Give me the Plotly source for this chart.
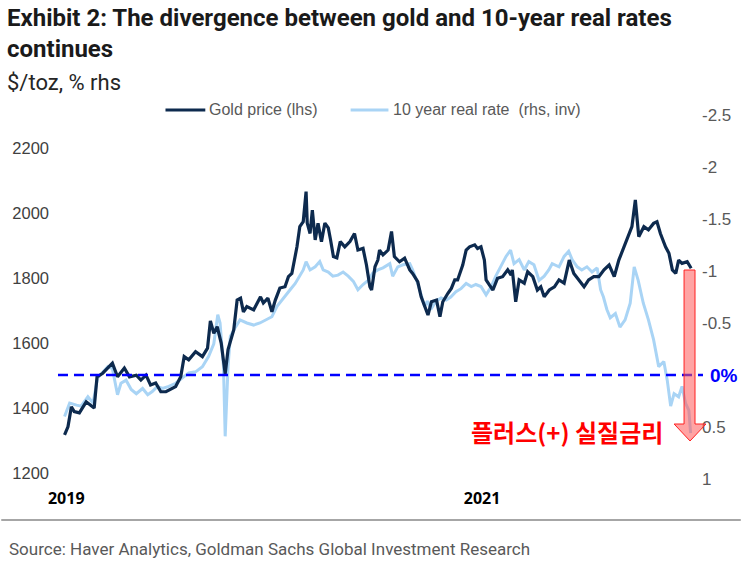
import plotly.graph_objects as go

# ---------------- data ----------------
gold_dates = (
    ["2019-06-11", "2019-06-17", "2019-06-23", "2019-06-28", "2019-07-07", "2019-07-19", "2019-08-02", "2019-08-07", "2019-08-17"]
    + ["2019-09-03", "2019-09-12", "2019-09-24", "2019-10-03", "2019-10-15", "2019-10-23", "2019-11-01", "2019-11-09", "2019-11-18", "2019-11-27", "2019-12-06", "2019-12-23"]
    + ["2020-01-01", "2020-01-07", "2020-01-15", "2020-01-27", "2020-02-08", "2020-02-17", "2020-02-22", "2020-02-28", "2020-03-05", "2020-03-12", "2020-03-19", "2020-03-24", "2020-03-30"]
    + ["2020-04-03", "2020-04-09", "2020-04-15", "2020-04-20", "2020-04-26", "2020-05-08", "2020-05-20", "2020-05-25", "2020-06-02", "2020-06-09", "2020-06-15", "2020-06-23"]
    + ["2020-07-02", "2020-07-08", "2020-07-14", "2020-07-23", "2020-07-28", "2020-08-03", "2020-08-08", "2020-08-10", "2020-08-15", "2020-08-19", "2020-08-24", "2020-08-29"]
    + ["2020-09-04", "2020-09-10", "2020-09-16", "2020-09-20", "2020-09-25", "2020-10-01", "2020-10-07", "2020-10-15", "2020-10-24"]
    + ["2020-11-01", "2020-11-07", "2020-11-16", "2020-11-22", "2020-11-28", "2020-12-01", "2020-12-07", "2020-12-12", "2020-12-15", "2020-12-21", "2020-12-30"]
    + ["2021-01-05", "2021-01-10", "2021-01-19", "2021-01-28", "2021-02-06", "2021-02-11", "2021-02-20", "2021-02-26", "2021-03-04", "2021-03-10", "2021-03-16", "2021-03-25", "2021-03-31"]
    + ["2021-04-05", "2021-04-14", "2021-04-20", "2021-04-26", "2021-05-01", "2021-05-10", "2021-05-16", "2021-05-22", "2021-05-31", "2021-06-05", "2021-06-11", "2021-06-17", "2021-06-20", "2021-06-26"]
    + ["2021-07-02", "2021-07-10", "2021-07-19", "2021-07-28", "2021-08-03", "2021-08-05", "2021-08-11", "2021-08-17", "2021-08-26", "2021-09-01", "2021-09-10", "2021-09-18", "2021-09-24", "2021-09-30"]
    + ["2021-10-09", "2021-10-18", "2021-10-26", "2021-11-04", "2021-11-13", "2021-11-21", "2021-11-30", "2021-12-09", "2021-12-17", "2021-12-26"]
    + ["2022-01-04", "2022-01-13", "2022-01-22", "2022-01-31", "2022-02-08", "2022-02-17", "2022-02-25", "2022-03-03", "2022-03-09", "2022-03-15", "2022-03-24"]
    + ["2022-04-01", "2022-04-10", "2022-04-16", "2022-04-22", "2022-05-01", "2022-05-07", "2022-05-13", "2022-05-19", "2022-05-24", "2022-05-30", "2022-06-08", "2022-06-15"]
)
gold_price = (
    [1317, 1342, 1404, 1389, 1385, 1419, 1400, 1496, 1507]
    + [1538, 1496, 1523, 1496, 1501, 1486, 1501, 1471, 1477, 1450, 1450, 1466]
    + [1496, 1558, 1548, 1573, 1558, 1584, 1668, 1630, 1650, 1600, 1505, 1580, 1620]
    + [1640, 1732, 1738, 1696, 1712, 1702, 1742, 1723, 1738, 1696, 1732, 1769]
    + [1773, 1804, 1814, 1896, 1958, 1973, 2066, 1969, 1937, 2009, 1917, 1968]
    + [1912, 1969, 1954, 1917, 1866, 1862, 1912, 1896, 1912]
    + [1937, 1886, 1891, 1840, 1773, 1763, 1835, 1855, 1886, 1871, 1886]
    + [1943, 1866, 1850, 1861, 1825, 1814, 1789, 1742, 1712, 1686, 1727, 1732, 1681]
    + [1727, 1753, 1768, 1794, 1794, 1840, 1886, 1896, 1902, 1891, 1896, 1855, 1794, 1778]
    + [1763, 1799, 1804, 1825, 1809, 1825, 1727, 1794, 1784, 1819, 1804, 1763, 1773, 1742]
    + [1763, 1773, 1794, 1784, 1855, 1814, 1794, 1773, 1794, 1804]
    + [1804, 1825, 1840, 1804, 1855, 1896, 1937, 1958, 2040, 1927, 1958]
    + [1948, 1968, 1973, 1937, 1896, 1876, 1825, 1814, 1855, 1845, 1850, 1830]
)

rate_dates = (
    ["2019-06-11", "2019-06-20", "2019-07-02", "2019-07-10", "2019-07-22", "2019-07-31", "2019-08-08", "2019-08-17", "2019-08-26", "2019-09-03", "2019-09-12",
     "2019-09-18", "2019-09-27", "2019-10-06", "2019-10-15", "2019-10-26", "2019-11-04", "2019-11-12", "2019-11-21", "2019-11-30", "2019-12-11", "2019-12-23"]
    + ["2020-01-04", "2020-01-15", "2020-01-27", "2020-02-08", "2020-02-19", "2020-02-28", "2020-03-06", "2020-03-10", "2020-03-16", "2020-03-19", "2020-03-24",
       "2020-03-28", "2020-04-06", "2020-04-14", "2020-04-26", "2020-05-08", "2020-05-19", "2020-05-31", "2020-06-09", "2020-06-18", "2020-06-29"]
    + ["2020-07-11", "2020-07-20", "2020-07-28", "2020-08-03", "2020-08-08", "2020-08-15", "2020-08-24", "2020-09-01", "2020-09-07", "2020-09-16", "2020-09-24",
       "2020-10-03", "2020-10-12", "2020-10-21", "2020-10-30", "2020-11-07", "2020-11-16", "2020-11-25", "2020-12-03", "2020-12-12", "2020-12-21"]
    + ["2021-01-02", "2021-01-07", "2021-01-16", "2021-01-25", "2021-02-06", "2021-02-11", "2021-02-20", "2021-02-26", "2021-03-04", "2021-03-09", "2021-03-15",
       "2021-03-24", "2021-04-02", "2021-04-11", "2021-04-19", "2021-04-28", "2021-05-07", "2021-05-16", "2021-05-25", "2021-06-02", "2021-06-11", "2021-06-20", "2021-06-29"]
    + ["2021-07-07", "2021-07-16", "2021-07-25", "2021-08-02", "2021-08-08", "2021-08-17", "2021-08-26", "2021-09-03", "2021-09-12", "2021-09-21", "2021-09-30",
       "2021-10-08", "2021-10-14", "2021-10-26", "2021-11-04", "2021-11-12", "2021-11-18", "2021-11-27", "2021-12-05", "2021-12-14", "2021-12-23"]
    + ["2022-01-01", "2022-01-07", "2022-01-12", "2022-01-18", "2022-01-24", "2022-02-02", "2022-02-10", "2022-02-19", "2022-02-28", "2022-03-07", "2022-03-14",
       "2022-03-23", "2022-04-01", "2022-04-10", "2022-04-19", "2022-04-28", "2022-05-04", "2022-05-10", "2022-05-16", "2022-05-24", "2022-05-30", "2022-06-05",
       "2022-06-11", "2022-06-14"]
)
real_rate = (
    [0.40, 0.27, 0.29, 0.30, 0.21, 0.27, 0.03, -0.03, -0.08, -0.06, 0.19,
     0.08, 0.05, 0.14, 0.18, 0.13, 0.19, 0.16, 0.11, 0.13, 0.11, 0.08]
    + [0.03, -0.02, -0.03, -0.08, -0.18, -0.30, -0.58, -0.50, -0.08, 0.59, -0.08,
       -0.37, -0.46, -0.53, -0.50, -0.48, -0.50, -0.53, -0.56, -0.66, -0.74]
    + [-0.82, -0.88, -0.95, -1.01, -1.09, -1.01, -1.04, -1.09, -1.01, -0.99, -0.95,
       -0.96, -0.99, -0.95, -0.90, -0.82, -0.87, -0.91, -0.98, -1.01, -1.03]
    + [-1.07, -0.95, -1.04, -1.06, -1.07, -1.01, -0.88, -0.77, -0.66, -0.71, -0.63,
       -0.71, -0.74, -0.72, -0.75, -0.80, -0.83, -0.88, -0.85, -0.87, -0.85, -0.77, -0.85]
    + [-0.95, -1.04, -1.14, -1.20, -1.07, -1.11, -1.01, -1.09, -1.06, -0.91, -0.95,
       -1.01, -1.07, -1.04, -1.14, -1.19, -1.11, -1.04, -1.01, -1.04, -0.99]
    + [-1.03, -0.82, -0.75, -0.63, -0.55, -0.59, -0.46, -0.53, -0.69, -1.04, -0.91,
       -0.69, -0.53, -0.34, -0.08, -0.13, 0.05, 0.30, 0.18, 0.21, 0.11, 0.27,
       0.34, 0.56]
)

left_ticks = [1200, 1400, 1600, 1800, 2000, 2200]
right_ticks = [-2.5, -2, -1.5, -1, -0.5, 0.5, 1]
right_ticktext = ["-2.5", "-2", "-1.5", "-1", "-0.5", "0.5", "1"]
x_tickvals = ["2019-06-14", "2021-06-13"]
x_ticktext = ["2019", "2021"]

# ---------------- layout geometry ----------------
W, H = 743, 564
L, R, T, B = 55, 700, 115, 480


def px(x):
    return (x - L) / (R - L)


def py(y):
    return (B - y) / (B - T)


NAVY = "#0d2a4e"
LIGHT = "#a9d4f5"
NARROW = "Roboto, Liberation Sans, sans-serif"
ARIAL = "Liberation Sans, Arial, sans-serif"

fig = go.Figure()
# real rate on primary axis (right side), gold on overlay axis so it is drawn on top
fig.add_trace(go.Scatter(x=rate_dates, y=real_rate, mode="lines", name="10 year real rate  (rhs, inv)",
                         line=dict(color=LIGHT, width=3), yaxis="y", showlegend=False))
fig.add_trace(go.Scatter(x=gold_dates, y=gold_price, mode="lines", name="Gold price (lhs)",
                         line=dict(color=NAVY, width=3.2), yaxis="y2", showlegend=False))

fig.update_layout(
    width=W, height=H,
    margin=dict(l=L, r=W - R, t=T, b=H - B),
    paper_bgcolor="white", plot_bgcolor="white",
    xaxis=dict(type="date", range=["2019-05-27", "2022-06-27"], showgrid=False, zeroline=False,
               showline=False, ticks="", tickvals=x_tickvals, ticktext=x_ticktext,
               tickfont=dict(family="Open Sans, sans-serif", size=16, color="black", weight="bold"),
               ticklabelstandoff=7),
    yaxis=dict(side="right", range=[1.01, -2.5], showgrid=False, zeroline=False, showline=False,
               ticks="", tickvals=right_ticks, ticktext=right_ticktext, ticklabelstandoff=3,
               tickfont=dict(family=ARIAL, size=17, color="#595959")),
    yaxis2=dict(side="left", overlaying="y", range=[1178.5, 2301.5], showgrid=False, zeroline=False,
                showline=False, ticks="", tickvals=left_ticks, ticklabelstandoff=6,
                tickfont=dict(family=ARIAL, size=16.5, color="#404040")),
)

shapes = []
# 0% dashed line
shapes.append(dict(type="line", xref="paper", yref="y", x0=px(57), x1=px(705), y0=0, y1=0,
                   line=dict(color="#0000ff", width=2.5, dash="10px,6px"), layer="above"))
# arrow
pts = [(686, 270), (697, 270), (697, 424), (708, 424), (692, 441), (676, 424), (686, 424)]
path = "M " + " L ".join(f"{px(a):.5f},{py(b):.5f}" for a, b in pts) + " Z"
shapes.append(dict(type="path", xref="paper", yref="paper", path=path,
                   fillcolor="rgba(255,90,90,0.55)", line=dict(color="#ff2020", width=1), layer="above"))
# legend samples
shapes.append(dict(type="line", xref="paper", yref="paper", x0=px(165), x1=px(205), y0=py(110), y1=py(110),
                   line=dict(color=NAVY, width=3)))
shapes.append(dict(type="line", xref="paper", yref="paper", x0=px(351), x1=px(389), y0=py(110), y1=py(110),
                   line=dict(color=LIGHT, width=3)))
# footer rule
shapes.append(dict(type="line", xref="paper", yref="paper", x0=px(0), x1=px(743), y0=py(520), y1=py(520),
                   line=dict(color="#a6a6a6", width=2)))
fig.update_layout(shapes=shapes)

ann = []


def add_text(text, x, y, size, color, family, xanchor="left", yanchor="middle"):
    ann.append(dict(text=text, x=px(x), y=py(y), xref="paper", yref="paper", showarrow=False,
                    xanchor=xanchor, yanchor=yanchor, font=dict(size=size, color=color, family=family),
                    align="left"))


add_text("<b>Exhibit 2: The divergence between gold and 10-year real rates</b><br><b>continues</b>",
         4, 2, 24, "#1a1a1a", NARROW, yanchor="top")
add_text("$/toz, % rhs", 4, 82, 22, "#262626", NARROW)
add_text("Gold price (lhs)", 207, 110, 16, "#595959", ARIAL)
add_text("10 year real rate \u00a0(rhs, inv)", 392, 110, 16, "#595959", ARIAL)
add_text("<b>0%</b>", 710, 375, 19, "#0000ff", ARIAL)
add_text("<b>플러스(+) 실질금리</b>", 568, 431, 24, "#ff0000", "Noto Sans CJK KR, sans-serif", xanchor="center")
add_text("Source: Haver Analytics, Goldman Sachs Global Investment Research", 6, 549, 17, "#595959", NARROW)
fig.update_layout(annotations=ann)

fig.write_html("out.html")
